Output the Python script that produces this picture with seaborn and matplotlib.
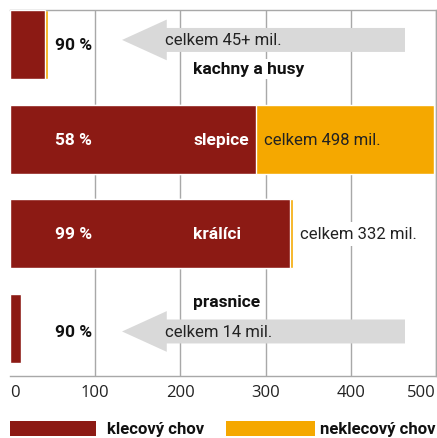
import matplotlib
matplotlib.use("Agg")
import matplotlib.pyplot as plt
from matplotlib.patches import FancyArrow, Rectangle
import seaborn as sns
import pandas as pd

categories = ["kachny a husy", "slepice", "králíci", "prasnice"]
totals = [45, 498, 332, 14]
caged_pct = [90, 58, 99, 90]
total_labels = ["celkem 45+ mil.", "celkem 498 mil.", "celkem 332 mil.", "celkem 14 mil."]
ticks = [0, 100, 200, 300, 400, 500]
legend_labels = ["klecový chov", "neklecový chov"]

RED = "#8C1A14"
ORANGE = "#F5A800"
GREY = "#D9D9D9"
GRID = "#A8A8A8"

caged = [t * p / 100 for t, p in zip(totals, caged_pct)]
df = pd.DataFrame({"kat": categories, "celkem": totals, "klec": caged})

sns.set_theme(style="white")
BOLD = ["Liberation Sans Narrow", "Roboto"]
REG = ["Roboto", "DejaVu Sans"]

fig = plt.figure(figsize=(4.37, 4.39), dpi=100)
ax = fig.add_axes([10 / 437, 1 - 377 / 439, 426 / 437, 366 / 439])

sns.barplot(data=df, y="kat", x="celkem", color=ORANGE, orient="h",
            width=0.726, ax=ax, saturation=1, zorder=2)
sns.barplot(data=df, y="kat", x="klec", color=RED, orient="h",
            width=0.726, ax=ax, saturation=1, zorder=3)

ax.set_xlim(0, 500)
ax.set_ylim(3.5, -0.363)
ax.set_xlabel("")
ax.set_ylabel("")
ax.set_yticks([])
ax.set_xticks(ticks)
ax.set_xticklabels([str(t) for t in ticks], fontfamily="Open Sans", fontsize=12, color="#222222")
labs = ax.get_xticklabels()
labs[0].set_ha("left")
labs[-1].set_ha("right")
ax.tick_params(axis="x", length=0, pad=6)
for x in ticks[1:]:
    ax.axvline(x, color=GRID, lw=1, zorder=1)
ax.spines["left"].set_visible(False)
for s in ["top", "bottom", "right"]:
    ax.spines[s].set_color(GRID)
    ax.spines[s].set_linewidth(1)

# grey arrows for small categories
arrow_y = {0: -0.047, 3: 3.03}
for i, yy in arrow_y.items():
    ax.add_patch(FancyArrow(463.6, yy, -(463.6 - 131.5), 0, width=0.253, head_width=0.43,
                            head_length=52.5, length_includes_head=True,
                            color=GREY, lw=0, zorder=4))
    ax.text(182, yy, total_labels[i], fontsize=12, fontfamily=REG, color="#222222",
            va="center", ha="left", zorder=5)

# percentages
pct_y = [0, 1, 2, 3.03]
pct_col = ["#111111", "white", "white", "#111111"]
for i in range(4):
    ax.text(52.8, pct_y[i], f"{caged_pct[i]} %", fontsize=12.5, fontweight="bold",
            fontfamily=BOLD, color=pct_col[i], va="center", ha="left", zorder=6)

# category labels
cat_y = [0.258, 1, 2, 2.71]
cat_col = ["#111111", "white", "white", "#111111"]
for i in range(4):
    bb = dict(facecolor="white", edgecolor="none", pad=2) if cat_col[i] != "white" else None
    ax.text(214.8, cat_y[i], categories[i], fontsize=12.5, fontweight="bold",
            fontfamily=BOLD, color=cat_col[i], va="center", ha="left", zorder=6, bbox=bb)

# totals for big bars
ax.text(298, 1, total_labels[1], fontsize=12, fontfamily=REG, color="#222222",
        va="center", ha="left", zorder=6)
ax.text(340, 2, total_labels[2], fontsize=12, fontfamily=REG, color="#222222",
        va="center", ha="left", zorder=6,
        bbox=dict(facecolor="white", edgecolor="none", pad=3))

# legend
W, H = 437, 439
fig.add_artist(Rectangle((10 / W, 1 - 437 / H), 86 / W, 15 / H, transform=fig.transFigure,
                         facecolor=RED, edgecolor="none"))
fig.text(107 / W, 1 - 430 / H, legend_labels[0], fontsize=12, fontweight="bold",
         fontfamily=BOLD, color="#111111", va="center", ha="left")
fig.add_artist(Rectangle((226 / W, 1 - 437 / H), 89 / W, 15 / H, transform=fig.transFigure,
                         facecolor=ORANGE, edgecolor="none"))
fig.text(436 / W, 1 - 430 / H, legend_labels[1], fontsize=12, fontweight="bold",
         fontfamily=BOLD, color="#111111", va="center", ha="right")

fig.savefig("out.png", dpi=100)
